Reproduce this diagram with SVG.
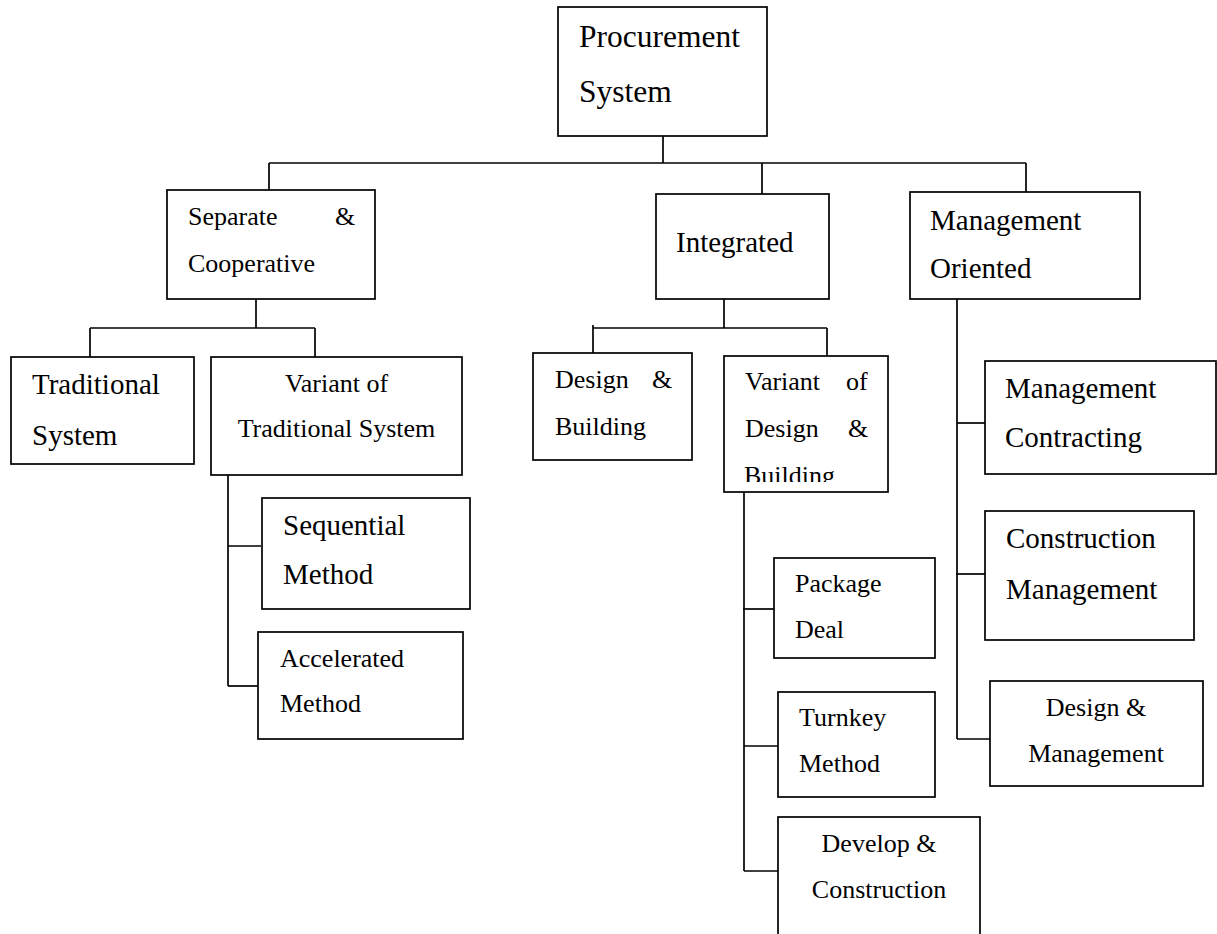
<svg xmlns="http://www.w3.org/2000/svg" width="1217" height="934" viewBox="0 0 1217 934">
<style>
rect{fill:#fff;stroke:#000;stroke-width:1.7}
.c line{stroke:#000;stroke-width:1.7}
text{font-family:"Liberation Serif","Times New Roman",serif;fill:#000}
.f26{font-size:26px}
.f29{font-size:29px}
.f31{font-size:31.5px}
</style>
<defs>
<clipPath id="clipVB"><rect x="700" y="350" width="200" height="132"/></clipPath>
</defs>
<rect x="0" y="0" width="1217" height="934" style="stroke:none"/>
<g class="c" id="connectors">
<line x1="663" y1="136" x2="663" y2="163"/>
<line x1="269" y1="163" x2="1026" y2="163"/>
<line x1="269" y1="163" x2="269" y2="190"/>
<line x1="762" y1="163" x2="762" y2="194"/>
<line x1="1026" y1="163" x2="1026" y2="192"/>
<line x1="256" y1="299" x2="256" y2="328"/>
<line x1="90" y1="328" x2="315" y2="328"/>
<line x1="90" y1="328" x2="90" y2="357"/>
<line x1="315" y1="328" x2="315" y2="357"/>
<line x1="228" y1="475" x2="228" y2="686"/>
<line x1="228" y1="546" x2="261" y2="546"/>
<line x1="228" y1="686" x2="258" y2="686"/>
<line x1="724" y1="299" x2="724" y2="328"/>
<line x1="593" y1="328" x2="827" y2="328"/>
<line x1="593" y1="325" x2="593" y2="353"/>
<line x1="827" y1="328" x2="827" y2="356"/>
<line x1="744" y1="492" x2="744" y2="871"/>
<line x1="743" y1="609" x2="774" y2="609"/>
<line x1="744" y1="746" x2="778" y2="746"/>
<line x1="744" y1="871" x2="778" y2="871"/>
<line x1="957" y1="299" x2="957" y2="739"/>
<line x1="957" y1="423" x2="985" y2="423"/>
<line x1="956" y1="574" x2="985" y2="574"/>
<line x1="957" y1="739" x2="990" y2="739"/>
</g>
<g id="procurement">
<rect x="558" y="7" width="209" height="129"/>
<text class="f31" x="579" y="47">Procurement</text>
<text class="f31" x="579" y="102">System</text>
</g>
<g id="separate">
<rect x="167" y="190" width="208" height="109"/>
<text class="f26" y="225"><tspan x="188">Separate</tspan><tspan x="335">&amp;</tspan></text>
<text class="f26" x="188" y="272">Cooperative</text>
</g>
<g id="integrated">
<rect x="656" y="194" width="173" height="105"/>
<text class="f29" x="676" y="252">Integrated</text>
</g>
<g id="management-oriented">
<rect x="910" y="192" width="230" height="107"/>
<text class="f29" x="930" y="230">Management</text>
<text class="f29" x="930" y="278">Oriented</text>
</g>
<g id="traditional">
<rect x="11" y="357" width="183" height="107"/>
<text class="f29" x="32" y="394">Traditional</text>
<text class="f29" x="32" y="445">System</text>
</g>
<g id="variant-traditional">
<rect x="211" y="357" width="251" height="118"/>
<text class="f26" x="336.5" y="392" text-anchor="middle">Variant of</text>
<text class="f26" x="336.5" y="437" text-anchor="middle">Traditional System</text>
</g>
<g id="sequential">
<rect x="262" y="498" width="208" height="111"/>
<text class="f29" x="283" y="535">Sequential</text>
<text class="f29" x="283" y="584">Method</text>
</g>
<g id="accelerated">
<rect x="258" y="632" width="205" height="107"/>
<text class="f26" x="280" y="667">Accelerated</text>
<text class="f26" x="280" y="712">Method</text>
</g>
<g id="design-building">
<rect x="533" y="353" width="159" height="107"/>
<text class="f26" y="388"><tspan x="555">Design</tspan><tspan x="652">&amp;</tspan></text>
<text class="f26" x="555" y="435">Building</text>
</g>
<g id="variant-design-building">
<rect x="724" y="356" width="164" height="136"/>
<text class="f26" y="390"><tspan x="745">Variant</tspan><tspan x="846">of</tspan></text>
<text class="f26" y="437"><tspan x="745">Design</tspan><tspan x="848">&amp;</tspan></text>
<text class="f26" x="744" y="484" clip-path="url(#clipVB)">Building</text>
</g>
<g id="package-deal">
<rect x="774" y="558" width="161" height="100"/>
<text class="f26" x="795" y="592">Package</text>
<text class="f26" x="795" y="638">Deal</text>
</g>
<g id="turnkey">
<rect x="778" y="692" width="157" height="105"/>
<text class="f26" x="799" y="726">Turnkey</text>
<text class="f26" x="799" y="772">Method</text>
</g>
<g id="develop-construction">
<rect x="778" y="817" width="202" height="130"/>
<text class="f26" x="879" y="852" text-anchor="middle">Develop &amp;</text>
<text class="f26" x="879" y="898" text-anchor="middle">Construction</text>
</g>
<g id="management-contracting">
<rect x="985" y="361" width="231" height="113"/>
<text class="f29" x="1005" y="398">Management</text>
<text class="f29" x="1005" y="447">Contracting</text>
</g>
<g id="construction-management">
<rect x="985" y="511" width="209" height="129"/>
<text class="f29" x="1006" y="548">Construction</text>
<text class="f29" x="1006" y="599">Management</text>
</g>
<g id="design-management">
<rect x="990" y="681" width="213" height="105"/>
<text class="f26" x="1096" y="716" text-anchor="middle">Design &amp;</text>
<text class="f26" x="1096" y="762" text-anchor="middle">Management</text>
</g>
</svg>
